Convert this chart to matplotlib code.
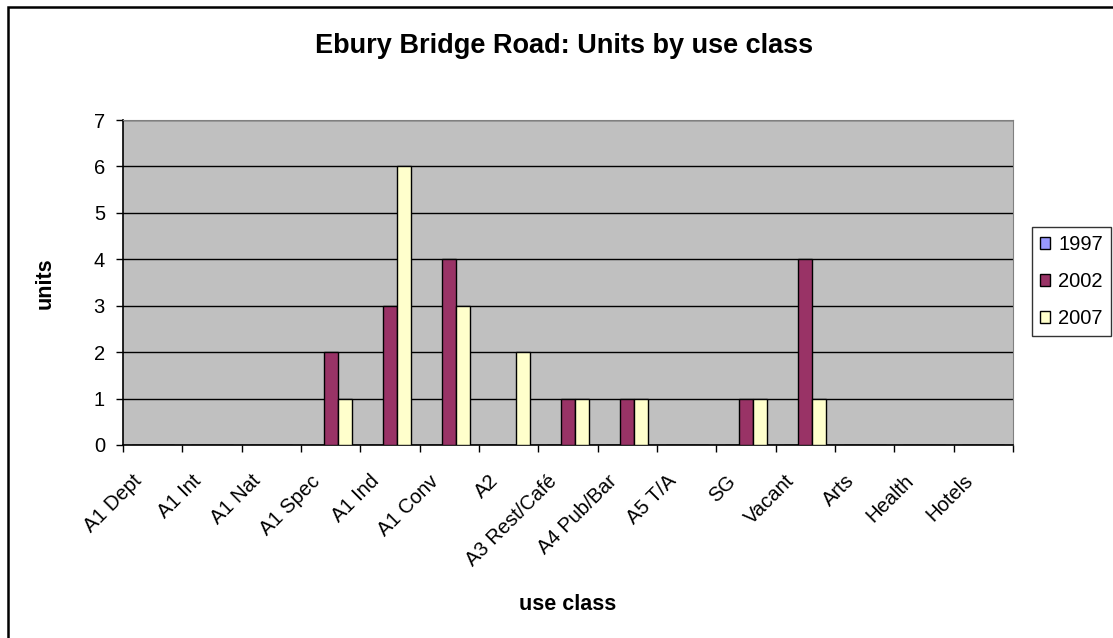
import matplotlib
matplotlib.use('Agg')
import matplotlib.pyplot as plt
import matplotlib.transforms as mtransforms
import numpy as np
from matplotlib.patches import Rectangle

plt.rcParams['font.family'] = ['Liberation Sans', 'DejaVu Sans']

categories = ['A1 Dept', 'A1 Int', 'A1 Nat', 'A1 Spec', 'A1 Ind', 'A1 Conv', 'A2',
              'A3 Rest/Café', 'A4 Pub/Bar', 'A5 T/A', 'SG', 'Vacant', 'Arts',
              'Health', 'Hotels']
units_1997 = [0, 0, 0, 0, 0, 0, 0, 0, 0, 0, 0, 0, 0, 0, 0]
units_2002 = [0, 0, 0, 2, 3, 4, 0, 1, 1, 0, 1, 4, 0, 0, 0]
units_2007 = [0, 0, 0, 1, 6, 3, 2, 1, 1, 0, 1, 1, 0, 0, 0]
years = ['1997', '2002', '2007']
colors = ['#9999FF', '#993366', '#FFFFCC']

W, H = 1113, 638
fig = plt.figure(figsize=(W / 100, H / 100), dpi=100)
ax = fig.add_axes([123 / W, 1 - 445 / H, 890 / W, 325 / H])
ax.set_facecolor('#C0C0C0')

x = np.arange(len(categories))
bw = 0.236
for i, (vals, lab, col) in enumerate(zip([units_1997, units_2002, units_2007], years, colors)):
    ax.bar(x + (i - 1) * bw, vals, width=bw, color=col, edgecolor='black',
           linewidth=1, label=lab, zorder=3)

ax.set_xlim(-0.5, len(categories) - 0.5)
ax.set_ylim(0, 7)
ax.set_yticks(range(8))
ax.yaxis.grid(True, color='black', linewidth=1, zorder=1)
ax.set_axisbelow(True)

ax.set_xticks(x)
ax.set_xticklabels(categories, rotation=45, ha='right', va='top', fontsize=14.5)
ax.tick_params(axis='x', which='major', length=0, pad=19)
ax.set_xticks(np.arange(-0.5, len(categories)), minor=True)
ax.tick_params(axis='x', which='minor', length=5, width=1, direction='out')
ax.tick_params(axis='y', length=5, width=1, labelsize=14.5, pad=8)

# shift rotated labels a little left, like excel does
shift = mtransforms.ScaledTranslation(-7 / 100, 0, fig.dpi_scale_trans)
for lbl in ax.get_xticklabels():
    lbl.set_transform(lbl.get_transform() + shift)

for s in ['top', 'right']:
    ax.spines[s].set_color('#808080')
for s in ['left', 'bottom']:
    ax.spines[s].set_color('black')
    ax.spines[s].set_linewidth(1.2)

fig.text(564 / W, 1 - 46 / H, 'Ebury Bridge Road: Units by use class',
         ha='center', va='center', fontsize=19.5, fontweight='bold')
fig.text(45 / W, 1 - 283 / H, 'units', ha='center', va='center', rotation=90,
         fontsize=15.5, fontweight='bold')
fig.text(568 / W, 1 - 604 / H, 'use class', ha='center', va='center',
         fontsize=15.5, fontweight='bold')

leg = fig.legend(loc='upper left', bbox_to_anchor=(1032 / W, 1 - 227 / H),
                 borderaxespad=0, fontsize=14.5, frameon=True, fancybox=False,
                 edgecolor='black', handlelength=0.5, handleheight=0.5,
                 handletextpad=0.4, labelspacing=0.9, borderpad=0.4)
leg.get_frame().set_linewidth(1)

fig.patches.append(Rectangle((8 / W, -0.1), 1.2, 1 - 7 / H + 0.1,
                             transform=fig.transFigure, fill=False,
                             edgecolor='black', linewidth=1.8))

fig.savefig('out.png', dpi=100)
